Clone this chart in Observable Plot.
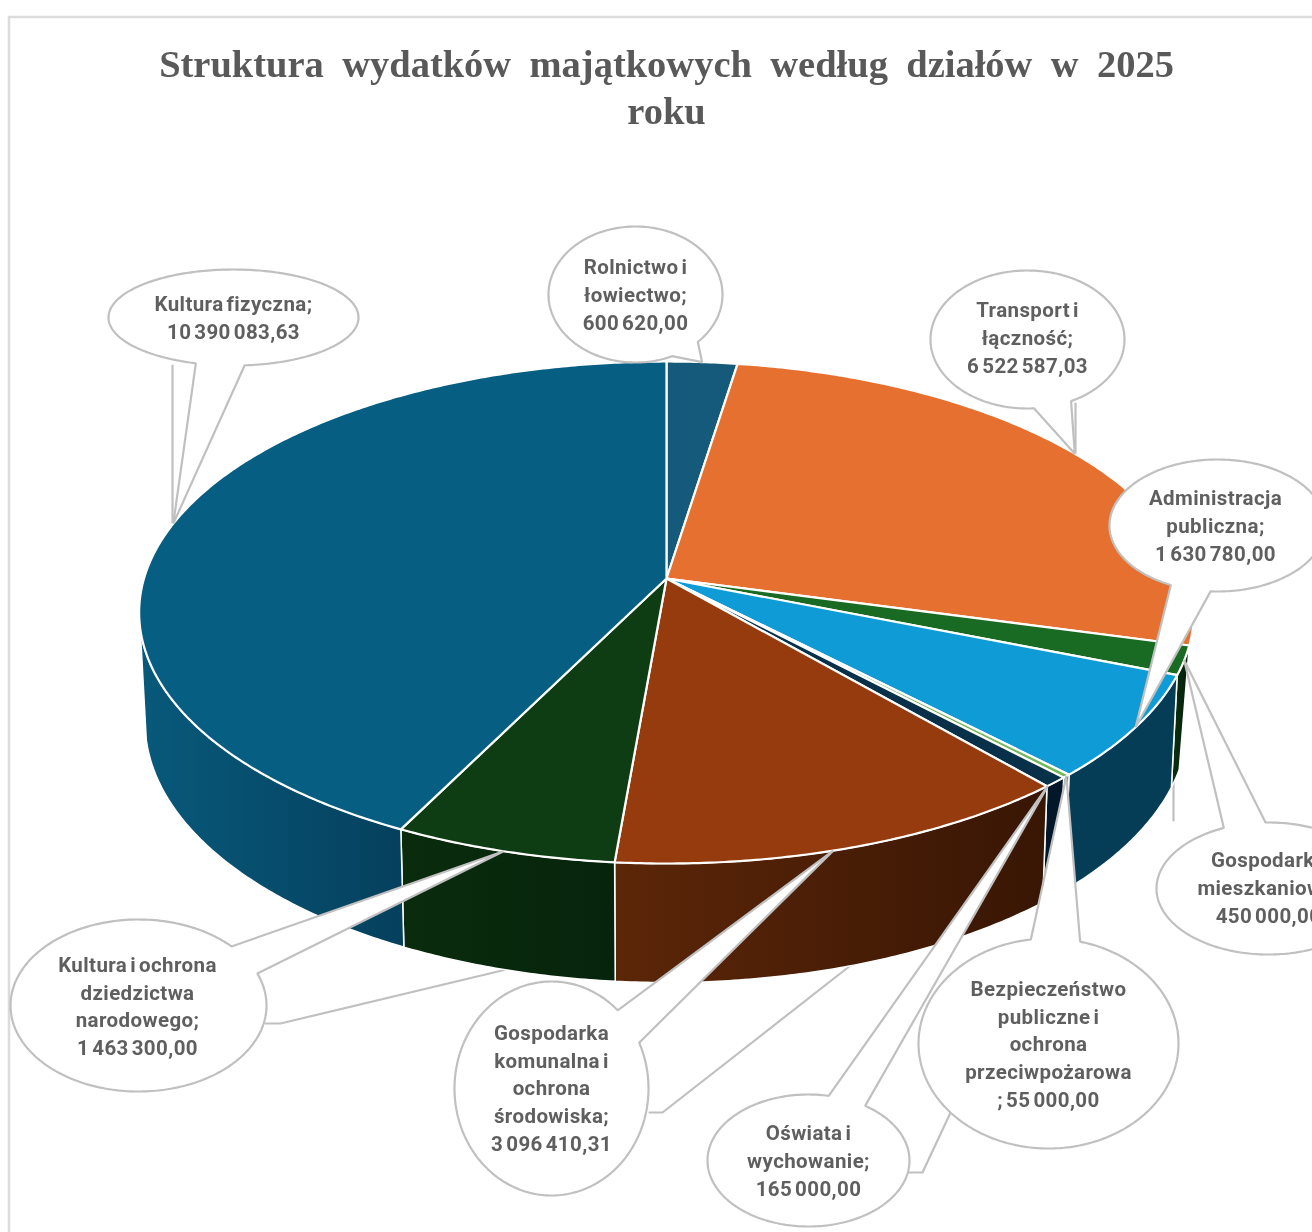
<!DOCTYPE html>
<html lang="pl">
<head>
<meta charset="utf-8">
<title>Struktura wydatków majątkowych</title>
<script src="https://cdn.jsdelivr.net/npm/d3@7"></script>
<script src="https://cdn.jsdelivr.net/npm/@observablehq/plot@0.6"></script>
<style>
  html, body { margin: 0; padding: 0; background: #fff; overflow: hidden; }
  #chart svg { display: block; filter: blur(0.7px); }
</style>
</head>
<body>
<div id="chart"></div>
<script>
// ---- Data (clockwise from the top of the pie) ----
const categories = [
  "Rolnictwo i\nłowiectwo;",
  "Transport i\nłączność;",
  "Gospodarka\nmieszkaniowa;",
  "Administracja\npubliczna;",
  "Bezpieczeństwo\npubliczne i\nochrona\nprzeciwpożarowa",
  "Oświata i\nwychowanie;",
  "Gospodarka\nkomunalna i\nochrona\nśrodowiska;",
  "Kultura i ochrona\ndziedzictwa\nnarodowego;",
  "Kultura fizyczna;"
];
const values = [600620.00, 6522587.03, 450000.00, 1630780.00, 55000.00, 165000.00, 3096410.31, 1463300.00, 10390083.63];
const titleLines = ["Struktura wydatków majątkowych według działów w 2025", "roku"];

// ---- Colours ----
const topColors  = ["#15597b", "#e6702f", "#196a22", "#0f9bd6", "#70b85a", "#083048", "#963b0d", "#0f3d13", "#065f83"];
const wallStart  = ["#15597b", "#8a4218", "#0a3010", "#053d56", "#1c3a14", "#02182a", "#5c2608", "#0a2c0d", "#08597b"];
const wallEnd    = ["#15597b", "#8a4218", "#062008", "#053d56", "#1c3a14", "#02182a", "#381604", "#06240c", "#05405d"];
const ink = "#5f5f5f", calloutLine = "#c0c0c0";

// ---- Callout layout: ellipse, the two points where the pointer leaves it,
//      leader-line route, and where on the slice's arc the pointer lands ----
const calloutLayout = [
  {c:[635,294], r:[87,68],   b:[[670,353],[698,342]],   text:[635,292.5]},
  {c:[1027,339],r:[97,69],   b:[[1033,403],[1068,397]], text:[1027,335.5], leader:[[1075,403],[1075,453]]},
  {c:[1268,888],r:[112,66],  b:[[1223,827],[1265,821]], text:[1268,885.5], leader:[[1173,665],[1173,820]]},
  {c:[1217,525],r:[108,66],  b:[[1170,585],[1210,592]], text:[1215,523.5]},
  {c:[1048,1043],r:[130,105],b:[[1030,937],[1080,940]], text:[1048,1042]},
  {c:[808,1160],r:[101,66],  b:[[828,1096],[864,1106]], text:[808,1158.5], at:0.95, leader:[[907,1172],[922,1172],[1047,905]]},
  {c:[551,1088],r:[97,107],  b:[[617,1010],[639,1042]], text:[551,1086], at:0.54, leader:[[649,1112],[662,1112],[850,965]]},
  {c:[138,1005],r:[128,86],  b:[[231,946],[257,973]],   text:[137,1004], leader:[[265,1023],[280,1023],[510,968]]},
  {c:[233,317], r:[125,48],  b:[[196,362],[244,364]],   text:[233,315.5], leader:[[172,365],[172,522]]}
];
const calloutOrder = [8, 0, 1, 7, 6, 5, 4, 2, 3];

// ---- Pie geometry: a disc seen in perspective ----
const hub = {x: 666, y: 578}, persp = {a: 522.5, b: 246.4, k: 0.1355};
const topEllipse = {cx: 666, cy: 612, rx: 527, ry: 251};
const baseEllipse = {cx: 666, cy: 722, rx: 521, ry: 260};
const wallFrom = 103, wallTo = 258.5, baseFrom = 108; // visible part of the side wall, degrees

const rad = Math.PI / 180;
function rim(deg) {
  const u = Math.sin(deg * rad), v = -Math.cos(deg * rad), d = 1 - persp.k * v;
  return {x: hub.x + persp.a * u / d, y: hub.y + persp.b * v / d};
}
function base(deg) {
  const p = rim(Math.max(deg, baseFrom));
  return {
    x: baseEllipse.cx + baseEllipse.rx * (p.x - topEllipse.cx) / topEllipse.rx,
    y: baseEllipse.cy + baseEllipse.ry * (p.y - topEllipse.cy) / topEllipse.ry
  };
}
function arc(fn, a0, a1) {
  const n = Math.max(1, Math.ceil(Math.abs(a1 - a0) * 2));
  return d3.range(n + 1).map(i => fn(a0 + (a1 - a0) * i / n));
}

const total = d3.sum(values);
const running = d3.cumsum(values);
const slices = values.map((v, i) => ({
  i,
  start: (running[i] - v) / total * 360,
  end: running[i] / total * 360
}));

const fmt = d3.formatLocale({decimal: ",", thousands: " ", grouping: [3], currency: ["", ""]}).format(",.2f");

function poly(points, options) {
  return Plot.line(points, {x: "x", y: "y", curve: "linear-closed", ...options});
}
function calloutShape(i) {
  const s = slices[i], L = calloutLayout[i];
  const tip = rim(s.start + (s.end - s.start) * (L.at ?? 0.5));
  const ang = ([x, y]) => Math.atan2((y - L.c[1]) / L.r[1], (x - L.c[0]) / L.r[0]);
  const a1 = ang(L.b[0]), a2 = ang(L.b[1]);
  let sweep = (a1 - a2 + 2 * Math.PI) % (2 * Math.PI);
  if (sweep < Math.PI) sweep -= 2 * Math.PI;
  const pts = d3.range(241).map(k => {
    const t = a2 + sweep * k / 240;
    return {x: L.c[0] + L.r[0] * Math.cos(t), y: L.c[1] + L.r[1] * Math.sin(t)};
  });
  return [tip, ...pts];
}
// a render hook that sets text spacing, which Plot has no option for
const spacing = (word, letter) => (index, scales, values, dimensions, context, next) => {
  const g = next(index, scales, values, dimensions, context);
  g.style.wordSpacing = word;
  g.style.letterSpacing = letter;
  return g;
};

// side-wall gradients
const gradients = () => {
  const defs = d3.create("svg:defs");
  slices.forEach(s => {
    const g = defs.append("linearGradient").attr("id", `wall${s.i}`);
    g.append("stop").attr("offset", 0).attr("stop-color", wallStart[s.i]);
    g.append("stop").attr("offset", 1).attr("stop-color", wallEnd[s.i]);
  });
  return defs.node();
};

const marks = [gradients];

// chart frame
marks.push(Plot.rect([{x1: 9, x2: 1340, y1: 17, y2: 1260}], {
  x1: "x1", x2: "x2", y1: "y1", y2: "y2", fill: "white", stroke: "#dcdcdc", strokeWidth: 2.5
}));

// title
marks.push(Plot.text(titleLines, {
  x: () => 666, y: (d, i) => 64 + i * 47, text: d => d,
  fontFamily: "Liberation Serif", fontWeight: "bold", fontSize: 38.5, fill: "#595959",
  render: spacing("8.7px", "0px")
}));

// leader lines sit behind the pie
calloutLayout.forEach(L => {
  if (L.leader) marks.push(Plot.line(L.leader.map(([x, y]) => ({x, y})), {
    x: "x", y: "y", stroke: calloutLine, strokeWidth: 2.2
  }));
});

// side walls
slices.forEach(s => {
  const a0 = Math.max(s.start, wallFrom), a1 = Math.min(s.end, wallTo);
  if (a0 >= a1) return;
  marks.push(poly([...arc(rim, a0, a1), ...arc(base, a1, a0)], {
    fill: `url(#wall${s.i})`, stroke: "white", strokeWidth: 1.5
  }));
});

// top face
slices.forEach(s => {
  marks.push(poly([hub, ...arc(rim, s.start, s.end)], {
    fill: topColors[s.i], stroke: "white", strokeWidth: 2.2
  }));
});

// callouts
calloutOrder.forEach(i => {
  marks.push(poly(calloutShape(i), {fill: "white", stroke: calloutLine, strokeWidth: 2.2, strokeLinejoin: "miter"}));
});

// callout texts
marks.push(Plot.text(categories, {
  x: (d, i) => calloutLayout[i].text[0],
  y: (d, i) => calloutLayout[i].text[1],
  text: (d, i) => d + (d.endsWith(";") ? "\n" : "\n; ") + fmt(values[i]),
  lineHeight: 1.35,
  lineAnchor: "middle",
  fontFamily: "Roboto", fontWeight: "bold", fontSize: 20.5, fill: ink,
  render: spacing("-2.5px", "0.4px")
}));

const chart = Plot.plot({
  width: 1312, height: 1232,
  margin: 0,
  x: {domain: [0, 1312], range: [0, 1312], axis: null},
  y: {domain: [0, 1232], range: [0, 1232], axis: null},
  style: {background: "white", overflow: "hidden"},
  marks
});
document.getElementById("chart").append(chart);
</script>
</body>
</html>
